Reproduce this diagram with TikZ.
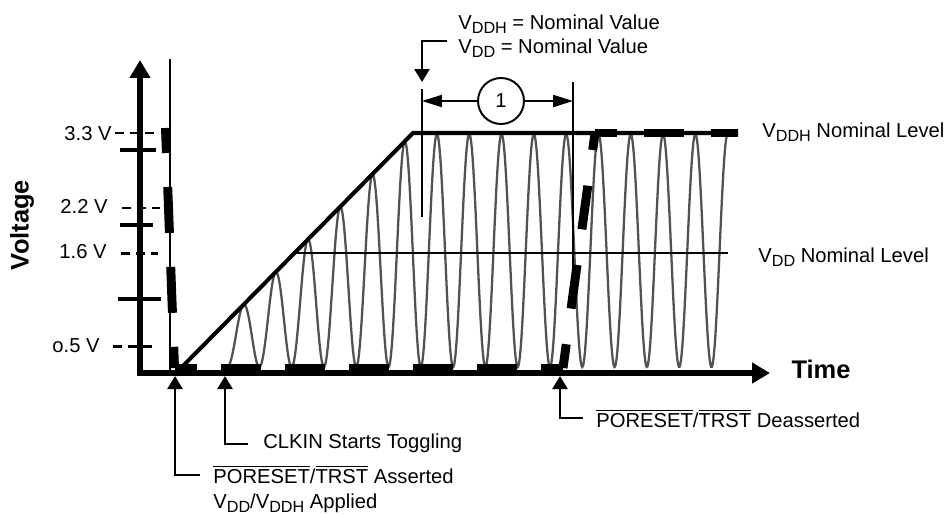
\documentclass[tikz,border=0pt]{standalone}
\usepackage{fontspec}
\setmainfont{Liberation Sans}
\usetikzlibrary{arrows.meta,positioning}
\newcommand{\ovl}[1]{$\overline{\mbox{#1}}$}
\newcommand{\lowsub}[1]{\raisebox{-2.6pt}{\fontsize{9.2}{10}\selectfont #1}}
\tikzset{%
  >={Triangle[length=7.4pt,width=8.5pt]},
  % Specifications for style of lines:
      axisline/.style = {line width=3.1pt, line join=miter,
                         arrows={Triangle[length=10.2pt,width=11.3pt]-Triangle[length=10.2pt,width=11.3pt]}},
      rampline/.style = {line width=2.3pt, line join=miter},
       nomline/.style = {line width=1.5pt},
      thinline/.style = {line width=1.1pt},
         clock/.style = {line width=1.3pt, draw=black!68},
      resetsig/.style = {line width=5.1pt},
      solidtick/.style = {line width=2.5pt},
       dashtick/.style = {line width=1.7pt, dash pattern={on 5.1pt off 3.4pt}},
       callout/.style = {line width=1.5pt, ->},
       dimline/.style = {line width=1.1pt, -{Triangle[length=11.3pt,width=6.8pt]}},
  % Specifications for style of texts:
           txt/.style = {inner sep=0pt, font=\fontsize{11.5}{13.8}\selectfont},
      axistitle/.style = {inner sep=0pt, font=\fontsize{14.5}{17}\selectfont\bfseries},
     numcircle/.style = {circle, draw, line width=1.1pt, minimum size=0.92cm,
                         inner sep=0pt, font=\fontsize{11.5}{13.8}\selectfont},
}

\begin{document}
\begin{tikzpicture}[x=0.02cm, y=-0.02cm]
  \useasboundingbox (0,0) rectangle (952,514);
  % clock signal under everything else
  \draw[clock] plot[domain=227:727.6, samples=700]
    (\x, {367-(367-max(134,372-1.013*(\x-177)))*(1-cos((\x-227)/32.3*360))/2});
  % supply ramp and nominal levels
  \draw[rampline] (178,371) -- (413,133) -- (738,133);
  \draw[nomline] (297,253) -- (728,253);
  % thin marker lines
  \draw[thinline] (170,59) -- (170,373);
  \draw[thinline] (422,89) -- (422,217);
  \draw[thinline] (573,82) -- (573,270);
  % axes
  \draw[axisline] (140,60) |- (770,373);
  \node[axistitle, rotate=90] (volt) at (22,225) {Voltage};
  \node[axistitle] (time) at (821,369) {Time};
  % voltage marks
  \node[txt, anchor=base east] (l33) at (112,140) {3.3 V};
  \node[txt, anchor=base east] (l22) at (108,213) {2.2 V};
  \node[txt, anchor=base east] (l16) at (107,258) {1.6 V};
  \node[txt, anchor=base east] (l05) at (100,352) {o.5 V};
  \draw[dashtick] (115,133) -- (157,133);
  \draw[dashtick] (122,208) -- (160,208);
  \draw[dashtick] (121,253) -- (158,253);
  \draw[dashtick] (113,346) -- (155,346);
  \draw[solidtick] (120,150) -- (156,150);
  \draw[solidtick] (120,225) -- (153,225);
  \draw[solidtick] (118,299) -- (161,299);
  % PORESET/TRST signal
  \coordinate (rs1) at (165.5,128);
  \coordinate (rs2) at (174.5,368);
  \coordinate (rs3) at (563,368);
  \coordinate (rs4) at (595,133);
  \coordinate (rs5) at (738,133);
  \draw[resetsig, dash pattern={on 0.92cm off 0.68cm}, dash phase=0.42cm] (rs1) -- (rs2);
  \draw[resetsig, dash pattern={on 0.8cm off 0.48cm}, dash phase=0.35cm] (rs2) -- (rs3);
  \draw[resetsig, dash pattern={on 0.88cm off 0.72cm}, dash phase=0.4cm] (rs3) -- (rs4);
  \draw[resetsig, dash pattern={on 0.8cm off 0.54cm}, dash phase=0.36cm] (rs4) -- (rs5);
  % level labels
  \node[txt, anchor=base west] (ddhlvl) at (762,137) {V\lowsub{DDH} Nominal Level};
  \node[txt, anchor=base west] (ddlvl) at (758,262) {V\lowsub{DD} Nominal Level};
  % interval 1
  \node[txt, anchor=base west] (ddhval) at (458,29) {V\lowsub{DDH} = Nominal Value};
  \node[txt, anchor=base west] (ddval) at (458,53) {V\lowsub{DD} = Nominal Value};
  \coordinate (topbend) at (447,41);
  \coordinate (toptip) at (422,82);
  \draw[callout] (topbend) -| (toptip);
  \node[numcircle] (num) at (501,101) {1};
  \coordinate (dimL) at (422,101);
  \coordinate (dimR) at (573,101);
  \draw[dimline] (num.west) -- (dimL);
  \draw[dimline] (num.east) -- (dimR);
  % events on the time axis
  \coordinate (tipA) at (175,376);
  \coordinate (tipB) at (225,376);
  \coordinate (tipC) at (560,376);
  \coordinate (bendA) at (200,475);
  \coordinate (bendB) at (248,444);
  \coordinate (bendC) at (583,418);
  \draw[callout] (bendA) -| (tipA);
  \draw[callout] (bendB) -| (tipB);
  \draw[callout] (bendC) -| (tipC);
  \node[txt, anchor=base west] (assert) at (213,483) {\ovl{PORESET}/\ovl{TRST} Asserted};
  \node[txt, anchor=base west] (applied) at (213,508) {V\lowsub{DD}/V\lowsub{DDH} Applied};
  \node[txt, anchor=base west] (clkin) at (263,448) {CLKIN Starts Toggling};
  \node[txt, anchor=base west] (deassert) at (596,427) {\ovl{PORESET}/\ovl{TRST} Deasserted};
\end{tikzpicture}
\end{document}
